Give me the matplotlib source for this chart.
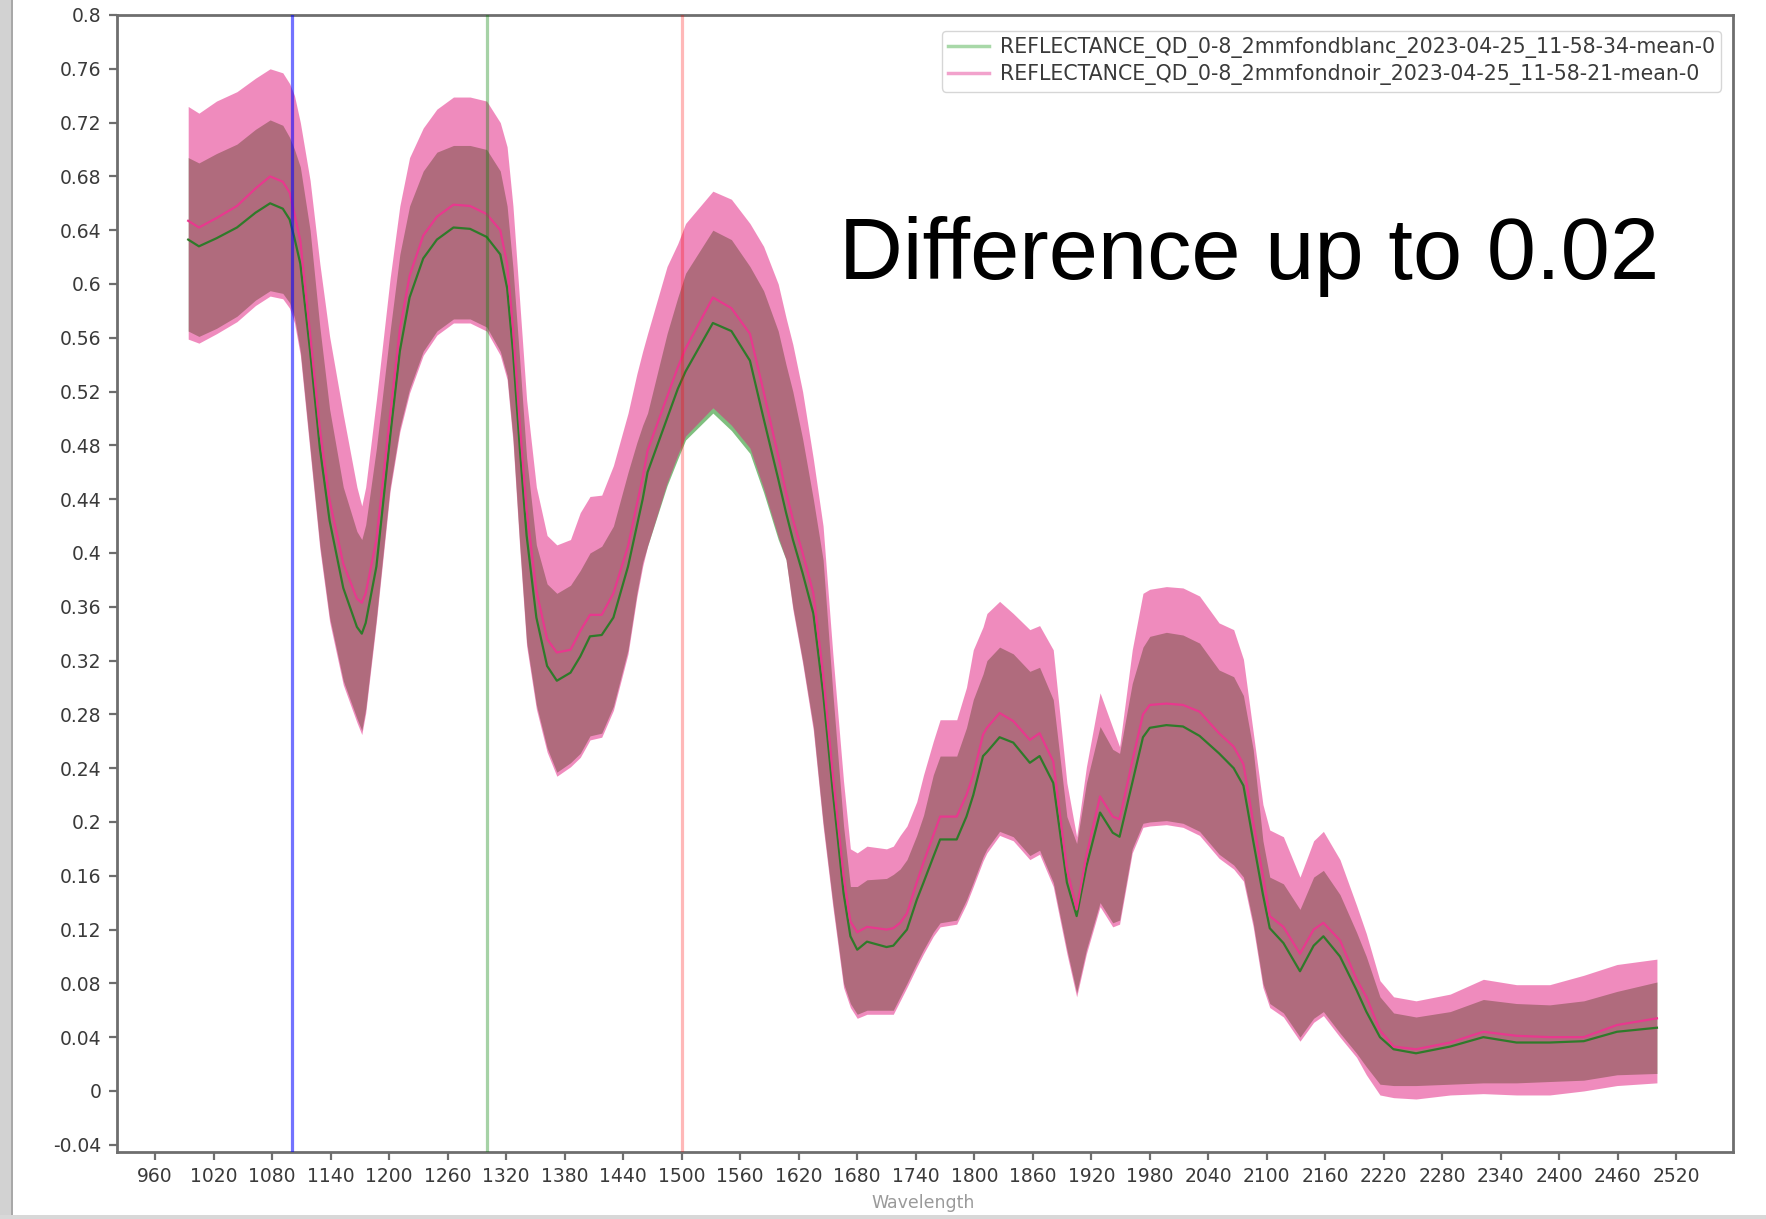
import matplotlib
matplotlib.use("Agg")
import matplotlib.pyplot as plt
from matplotlib.lines import Line2D
from matplotlib.patches import Rectangle

# ---------------- data ----------------
wavelength = [994, 1005, 1023, 1044, 1063, 1078, 1091, 1098, 1103, 1109,
              1119, 1129, 1139, 1153, 1167, 1172, 1176, 1187, 1201, 1211,
              1221, 1235, 1249, 1266, 1283, 1300, 1314, 1321, 1327, 1334,
              1341, 1351, 1362, 1372, 1386, 1396, 1406, 1418, 1430, 1445,
              1454, 1460, 1465, 1485, 1496, 1504, 1532, 1551, 1570, 1584,
              1599, 1607, 1614, 1624, 1635, 1645, 1655, 1666, 1673, 1680,
              1690, 1710, 1717, 1724, 1731, 1741, 1748, 1758, 1765, 1782,
              1792, 1799, 1809, 1813, 1826, 1840, 1857, 1867, 1881, 1895,
              1905, 1915, 1929, 1942, 1949, 1962, 1973, 1980, 1997, 2014,
              2031, 2051, 2066, 2076, 2086, 2096, 2103, 2117, 2134, 2148,
              2158, 2175, 2192, 2202, 2216, 2230, 2253, 2288, 2322, 2356,
              2390, 2425, 2459, 2500]

blanc_mean = [.633, .628, .634, .642, .653, .660, .656, .648, .634, .615,
              .550, .478, .424, .374, .345, .340, .348, .390, .486, .550,
              .590, .619, .633, .642, .641, .635, .622, .597, .550, .478,
              .413, .352, .316, .305, .311, .323, .338, .339, .352, .390,
              .420, .440, .460, .500, .522, .535, .571, .565, .543, .500,
              .455, .430, .410, .385, .355, .296, .222, .147, .115, .105,
              .111, .107, .108, .114, .120, .142, .155, .174, .187, .187,
              .204, .220, .249, .252, .263, .259, .244, .249, .229, .155,
              .130, .167, .207, .192, .189, .229, .263, .270, .272, .271,
              .264, .251, .240, .227, .186, .146, .121, .110, .089, .108,
              .115, .100, .075, .059, .040, .031, .028, .033, .040, .036,
              .036, .037, .044, .047]

noir_mean = [.647, .642, .649, .658, .671, .680, .676, .668, .652, .632,
             .563, .492, .439, .392, .366, .363, .370, .410, .502, .566,
             .606, .636, .650, .659, .658, .652, .640, .615, .568, .496,
             .432, .372, .336, .326, .328, .342, .354, .354, .370, .405,
             .436, .456, .476, .516, .538, .552, .590, .582, .563, .520,
             .472, .445, .425, .400, .370, .310, .235, .160, .126, .118,
             .122, .120, .121, .125, .132, .155, .170, .190, .204, .204,
             .220, .235, .265, .270, .281, .275, .261, .266, .245, .165,
             .135, .175, .219, .204, .202, .245, .280, .287, .288, .287,
             .282, .266, .256, .243, .200, .160, .130, .122, .102, .120,
             .125, .112, .083, .070, .045, .033, .031, .036, .044, .041,
             .040, .040, .049, .054]

blanc_upper = [.694, .690, .697, .704, .715, .722, .718, .709, .700, .687,
               .640, .568, .507, .449, .416, .410, .421, .478, .565, .622,
               .658, .684, .698, .703, .703, .700, .684, .658, .612, .543,
               .471, .406, .377, .370, .376, .387, .400, .405, .420, .460,
               .482, .495, .504, .563, .590, .608, .640, .633, .613, .595,
               .565, .540, .520, .485, .440, .395, .296, .197, .152, .152,
               .157, .158, .161, .165, .172, .190, .205, .235, .249, .249,
               .270, .291, .310, .320, .330, .325, .312, .315, .291, .204,
               .184, .229, .271, .254, .251, .303, .330, .338, .341, .339,
               .333, .313, .308, .294, .254, .186, .159, .154, .135, .159,
               .164, .146, .118, .100, .070, .058, .055, .059, .068, .065,
               .064, .067, .074, .081]

noir_upper = [.732, .727, .736, .743, .753, .760, .757, .749, .740, .720,
              .677, .615, .561, .503, .449, .435, .449, .514, .604, .658,
              .694, .716, .730, .739, .739, .736, .720, .702, .658, .586,
              .514, .449, .413, .406, .410, .430, .442, .443, .465, .504,
              .533, .550, .563, .613, .630, .645, .669, .663, .645, .628,
              .600, .575, .555, .520, .470, .420, .325, .230, .180, .177,
              .182, .180, .182, .190, .197, .215, .235, .260, .276, .276,
              .300, .328, .345, .355, .364, .355, .343, .346, .328, .229,
              .189, .241, .296, .270, .256, .328, .370, .373, .375, .374,
              .368, .348, .343, .321, .267, .213, .194, .189, .159, .186,
              .193, .172, .138, .117, .082, .070, .067, .072, .083, .079,
              .079, .086, .094, .098]

blanc_lower = [.565, .561, .567, .576, .588, .595, .593, .586, .575, .550,
               .478, .406, .352, .305, .277, .268, .284, .352, .449, .493,
               .522, .550, .565, .574, .574, .568, .550, .532, .486, .406,
               .334, .287, .255, .237, .244, .251, .264, .266, .286, .328,
               .370, .393, .405, .450, .470, .484, .504, .491, .474, .445,
               .410, .395, .360, .320, .271, .200, .140, .080, .065, .057,
               .060, .060, .060, .070, .080, .095, .105, .118, .125, .127,
               .142, .155, .174, .180, .193, .189, .175, .179, .155, .105,
               .073, .105, .140, .125, .127, .180, .199, .200, .201, .199,
               .193, .176, .168, .159, .125, .080, .065, .058, .040, .054,
               .059, .043, .028, .018, .005, .004, .004, .005, .006, .006,
               .007, .008, .012, .013]

noir_lower = [.559, .556, .563, .572, .584, .591, .589, .582, .571, .547,
              .475, .403, .349, .302, .274, .265, .281, .349, .446, .490,
              .519, .547, .562, .571, .571, .565, .547, .529, .483, .403,
              .331, .284, .252, .234, .241, .248, .261, .263, .283, .325,
              .367, .390, .405, .452, .473, .487, .508, .495, .478, .448,
              .412, .395, .358, .318, .268, .197, .137, .077, .062, .054,
              .057, .057, .057, .067, .077, .092, .102, .115, .122, .124,
              .139, .152, .171, .177, .190, .186, .172, .176, .152, .102,
              .070, .102, .137, .122, .124, .177, .196, .197, .198, .196,
              .190, .173, .165, .156, .122, .077, .062, .055, .037, .051,
              .056, .040, .025, .012, -.003, -.005, -.006, -.003, -.002, -.003,
              -.003, .000, .004, .006]

vline_positions = [1100, 1300, 1500]
vline_colors = ["#0000ff", "#008000", "#ff0000"]
vline_alphas = [0.55, 0.35, 0.28]

x_ticks = list(range(960, 2521, 60))
y_ticks = [-0.04, 0.0, 0.04, 0.08, 0.12, 0.16, 0.2, 0.24, 0.28, 0.32, 0.36,
           0.4, 0.44, 0.48, 0.52, 0.56, 0.6, 0.64, 0.68, 0.72, 0.76, 0.8]
y_tick_labels = ["-0.04", "0", "0.04", "0.08", "0.12", "0.16", "0.2", "0.24",
                 "0.28", "0.32", "0.36", "0.4", "0.44", "0.48", "0.52", "0.56",
                 "0.6", "0.64", "0.68", "0.72", "0.76", "0.8"]

legend_labels = ["REFLECTANCE_QD_0-8_2mmfondblanc_2023-04-25_11-58-34-mean-0",
                 "REFLECTANCE_QD_0-8_2mmfondnoir_2023-04-25_11-58-21-mean-0"]
annotation = "Difference up to 0.02"

# ---------------- figure ----------------
W, H = 1766, 1219
fig = plt.figure(figsize=(W / 100, H / 100), dpi=100)
fig.patch.set_facecolor("white")

ax_l, ax_r, ax_t, ax_b = 117, 1733, 15, 1152
ax = fig.add_axes([ax_l / W, 1 - ax_b / H, (ax_r - ax_l) / W, (ax_b - ax_t) / H])

GREEN = "#008000"
PINK = "#e1197d"

ax.fill_between(wavelength, blanc_lower, blanc_upper, color=GREEN, alpha=0.5,
                linewidth=0, zorder=1)
ax.fill_between(wavelength, noir_lower, noir_upper, color=PINK, alpha=0.5,
                linewidth=0, zorder=2)
ax.plot(wavelength, blanc_mean, color="#2f7a2a", linewidth=1.6, zorder=3)
ax.plot(wavelength, noir_mean, color="#e8388e", linewidth=1.6, zorder=3)

for xv, c, a in zip(vline_positions, vline_colors, vline_alphas):
    ax.axvline(xv, color=c, alpha=a, linewidth=2.3, zorder=4)

ax.set_xlim(921, 2578)
ax.set_ylim(-0.0454, 0.8)

ax.set_xticks(x_ticks)
ax.set_xticklabels([str(v) for v in x_ticks])
ax.set_yticks(y_ticks)
ax.set_yticklabels(y_tick_labels)

spine_color = "#6e6e6e"
for s in ax.spines.values():
    s.set_color(spine_color)
    s.set_linewidth(2.0)
ax.tick_params(axis="both", which="major", length=6, width=1.6,
               color=spine_color, labelsize=13.5, labelcolor="#3a3a3a", pad=5)

handles = [Line2D([0], [0], color="#a8d8a8", linewidth=2.5),
           Line2D([0], [0], color="#f2a2cc", linewidth=2.5)]
leg = ax.legend(handles, legend_labels, loc="upper right",
                bbox_to_anchor=(1721 / W, 1 - 31 / H), bbox_transform=fig.transFigure,
                borderaxespad=0, fontsize=14.8, handlelength=2.0, handletextpad=0.5,
                labelspacing=0.3, borderpad=0.3, frameon=True)
leg.get_frame().set_edgecolor("#cccccc")
for t in leg.get_texts():
    t.set_color("#3a3a3a")

fig.text(923 / W, 1 - 1203 / H, "Wavelength", ha="center", va="center",
         fontsize=12.5, color="#9a9a9a")

fig.text(839 / W, 1 - 279 / H, annotation, ha="left", va="baseline",
         fontsize=63.7, family="Liberation Sans", color="black")

# screenshot border remnants
fig.patches.append(Rectangle((0, 0), 11 / W, 1, transform=fig.transFigure,
                             facecolor="#d2d2d2", edgecolor="none", zorder=0))
fig.patches.append(Rectangle((11 / W, 0), 2 / W, 1, transform=fig.transFigure,
                             facecolor="#a8a8a8", edgecolor="none", zorder=0))
fig.patches.append(Rectangle((0, 0), 1, 4 / H, transform=fig.transFigure,
                             facecolor="#d8d8d8", edgecolor="none", zorder=0))

fig.savefig("out.png", dpi=100, facecolor="white")
